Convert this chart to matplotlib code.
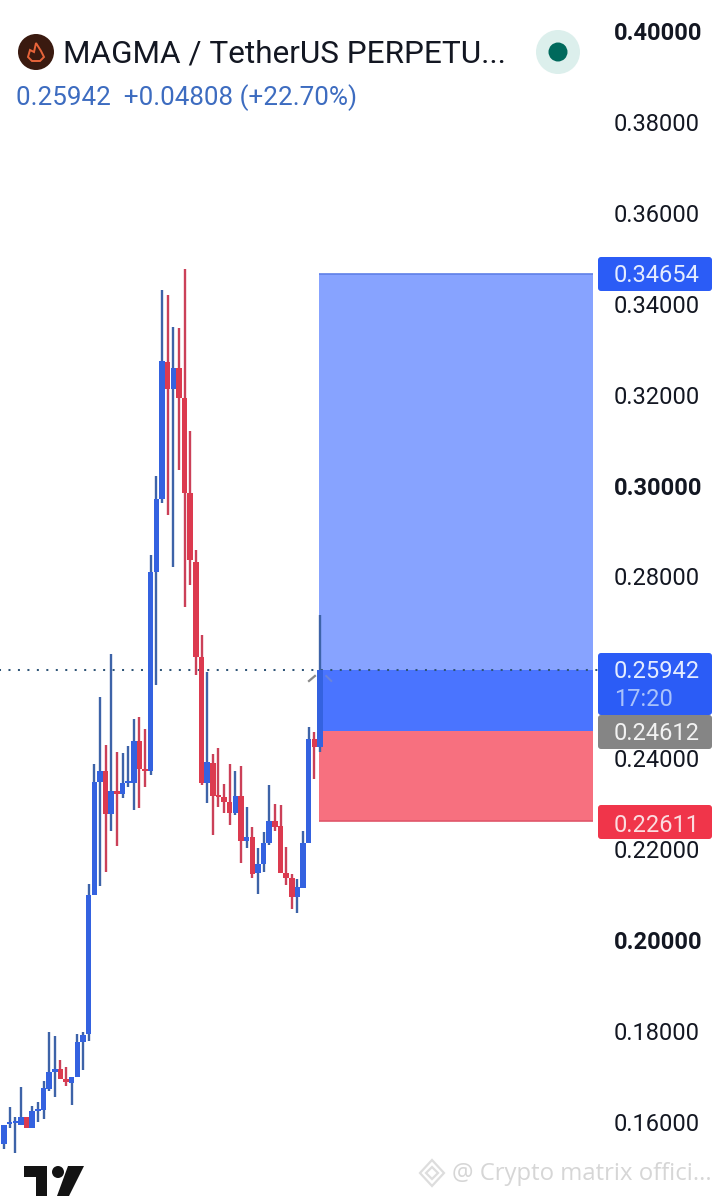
import matplotlib
matplotlib.use("Agg")
import matplotlib.pyplot as plt
from matplotlib.patches import FancyBboxPatch, Polygon, Circle, Rectangle
from matplotlib.transforms import Affine2D
import numpy as np

opens = [.15516,.15956,.15978,.15934,.16110,.15868,.16242,.16264,.16726,.17100,.17166,.16946,.16858,.16990,.17760,
         .17936,.20994,.23480,.23722,.22776,.23280,.23216,.23458,.23458,.24380,.23766,.23722,.28100,.29705,.32719,
         .32125,.32587,.31927,.29837,.28319,.26229,.23458,.23898,.23172,.23150,.23040,.22798,.23172,.22182,.22270,
         .21478,.21676,.22138,.22622,.22512,.21478,.21368,.20950,.21148,.22138,.24426,.24250]
closes = [.15934,.16000,.16000,.16110,.15868,.16242,.16264,.16748,.17100,.17166,.16946,.16880,.16990,.17760,.17914,
          .20994,.23480,.23722,.22776,.23280,.23216,.23458,.23480,.24380,.23766,.23722,.28100,.29705,.32741,.32125,
          .32587,.31927,.29837,.28363,.26229,.23458,.23920,.23172,.23150,.23040,.22798,.23172,.22182,.22270,.21456,
          .21676,.22138,.22622,.22490,.21478,.21368,.20950,.21170,.22138,.24426,.24250,.25942]
highs = [.15934,.16330,.16110,.16770,.16110,.16352,.16440,.16902,.17980,.17892,.17364,.17210,.16990,.17936,.17980,
         .21236,.23876,.25350,.24294,.26296,.24140,.24118,.24272,.24866,.24910,.24646,.28474,.30211,.34303,.34193,
         .33489,.33467,.34765,.31201,.28583,.26713,.25900,.24096,.24228,.23436,.23876,.23722,.23832,.22930,.22490,
         .22028,.22380,.23414,.22996,.22974,.22050,.21456,.21346,.22402,.24690,.24580,.27154]
lows = [.15406,.15868,.15318,.15934,.15868,.15868,.16000,.16066,.16682,.16550,.16946,.16792,.16374,.16990,.17144,
        .17782,.20994,.21192,.21500,.22402,.22072,.23128,.23370,.22864,.22908,.23370,.23634,.25614,.29617,.29353,
        .28209,.30343,.27329,.27813,.25833,.23414,.23018,.22314,.22930,.22798,.22534,.22754,.21698,.22028,.21368,
        .21016,.21500,.22094,.22402,.21478,.21214,.20686,.20598,.21148,.22138,.23546,.24140]

y_ticks = [0.40, 0.38, 0.36, 0.34, 0.32, 0.30, 0.28, 0.26, 0.24, 0.22, 0.20, 0.18, 0.16]
visible_ticks = [t for t in y_ticks if t != 0.26]
bold_ticks = [0.40, 0.30, 0.20]
last_price = 0.25942
target_price = 0.34654
entry_price = 0.24612
stop_price = 0.22611
title = "MAGMA / TetherUS PERPETU..."
subtitle = "0.25942  +0.04808 (+22.70%)"
countdown = "17:20"
watermark = "@ Crypto matrix offici..."

W, H = 719, 1198
BLUE, RED = "#3462E0", "#DC3A4F"
WICK_BLUE, WICK_RED = "#3D63A8", "#CB4058"
FONT = "Roboto"
plt.rcParams["font.family"] = [FONT, "DejaVu Sans"]

fig = plt.figure(figsize=(W / 100, H / 100), dpi=100, facecolor="white")
ax = fig.add_axes([0, 0, 1, 1])
k = 0.24 / 1091
ax.set_ylim(0.40 - (H - 31) * k, 0.40 + 31 * k)
step = 5.643
ax.set_xlim(-4 / step, (W - 4) / step)
for s in ax.spines.values():
    s.set_visible(False)
ax.set_xticks([])
ax.yaxis.tick_right()
ax.set_yticks(visible_ticks)
ax.set_yticklabels([f"{t:.5f}" for t in visible_ticks])
ax.tick_params(axis="y", length=0, pad=-75.6, labelsize=17, labelcolor="#131722")
for lab, t in zip(ax.get_yticklabels(), visible_ticks):
    if t in bold_ticks:
        lab.set_fontweight("bold")

# pixel coordinates (y down) for interface furniture
px = Affine2D().scale(1, -1).translate(0, H)

# position tool
n = len(opens)
x_left, x_right = n - 1 - 0.15, 104.4
ax.add_patch(Rectangle((x_left, last_price), x_right - x_left, target_price - last_price, fc="#87A3FF", ec="none", zorder=1))
ax.add_patch(Rectangle((x_left, entry_price), x_right - x_left, last_price - entry_price, fc="#4A74FF", ec="none", zorder=1))
ax.add_patch(Rectangle((x_left, stop_price), x_right - x_left, entry_price - stop_price, fc="#F7707F", ec="none", zorder=1))
ax.hlines(target_price, x_left, x_right, color="#5F80E8", lw=1.2, zorder=1.5)
ax.hlines(stop_price, x_left, x_right, color="#E0566A", lw=1.2, zorder=1.5)

# last price line
ax.hlines(last_price, -1, 105.2, color="#2F5578", lw=1.45, linestyles=(0, (1, 3.7)), zorder=2)

# candles
xs = np.arange(n)
o, c, hi, lo = map(np.array, (opens, closes, highs, lows))
up = c >= o
ax.vlines(xs, lo, hi, colors=[WICK_BLUE if u else WICK_RED for u in up], lw=1.7, zorder=3)
bottoms = np.minimum(o, c)
heights = np.maximum(np.abs(c - o), 0.0004)
ax.bar(xs, heights, bottom=bottoms, width=0.98, color=[BLUE if u else RED for u in up], lw=0, zorder=4)

# small drawing-handle strokes beside the last candle
ax.plot([n - 2.95, n - 1.9], [0.25702, 0.25812], color="#8a8a8a", lw=1.6, zorder=2.5)
ax.plot([n + 0.1, n + 1.0], [0.25812, 0.25702], color="#6B84D8", lw=1.4, zorder=2.5)

def label(x0, y0, x1, y1, fc):
    ax.add_patch(FancyBboxPatch((x0 + 2, y0 + 2), x1 - x0 - 4, y1 - y0 - 4,
                                boxstyle="round,pad=2,rounding_size=3", fc=fc, ec="none",
                                transform=px, zorder=5, clip_on=False))

def ptext(x, y, s, **kw):
    kw.setdefault("va", "center")
    kw.setdefault("ha", "left")
    return ax.text(x, y, s, transform=px, zorder=6, **kw)

label(598, 257, 712, 291, "#2B5CF6")
label(598, 653, 712, 715, "#2B5CF6")
label(598, 715, 712, 749, "#858585")
label(598, 805, 712, 839, "#F0354A")
ptext(614, 276, f"{target_price:.5f}", color="#E4ECFF", fontsize=17)
ptext(614, 672, f"{last_price:.5f}", color="#E4ECFF", fontsize=17)
ptext(614, 700, countdown, color="#A9C2FB", fontsize=17)
ptext(614, 734, f"{entry_price:.5f}", color="#F2F2F2", fontsize=17)
ptext(614, 825, f"{stop_price:.5f}", color="#FBDDE0", fontsize=17)

# header
ax.add_patch(Circle((36, 52), 18, fc="#3A1A10", ec="none", transform=px, zorder=6))
ax.add_patch(Polygon([(28, 57), (30, 50), (34, 52), (36, 43), (41, 51), (44, 57), (40, 61), (32, 61)],
                     closed=True, fc="none", ec="#E8643A", lw=1.4, transform=px, zorder=7))
ptext(63, 54, title, color="#131722", fontsize=22.7)
ptext(16, 98, subtitle, color="#3D6CC0", fontsize=18.7)
ax.add_patch(Circle((558, 52), 22, fc="#DCEFEC", ec="none", transform=px, zorder=6))
ax.add_patch(Circle((558, 52), 9.5, fc="#00695C", ec="none", transform=px, zorder=7))

# TradingView logo
ax.add_patch(Polygon([(24, 1166), (47, 1166), (47, 1196), (36, 1196), (36, 1177), (24, 1177)],
                     closed=True, fc="#131313", ec="none", transform=px, zorder=6))
ax.add_patch(Circle((58, 1172), 6, fc="#131313", ec="none", transform=px, zorder=6))
ax.add_patch(Polygon([(68, 1166), (84, 1166), (69, 1196), (57, 1196)],
                     closed=True, fc="#131313", ec="none", transform=px, zorder=6))

# watermark
for pts in ([(420, 1173), (432, 1160), (444, 1173), (432, 1186)], [(426, 1173), (432, 1167), (438, 1173), (432, 1179)]):
    ax.add_patch(Polygon(pts, closed=True, fc="none", ec="#DDDDDD", lw=1.6, transform=px, zorder=6))
ptext(452, 1174, watermark, color="#D6D6D6", fontsize=17.2, family="Open Sans")

fig.savefig("out.png", dpi=100)
